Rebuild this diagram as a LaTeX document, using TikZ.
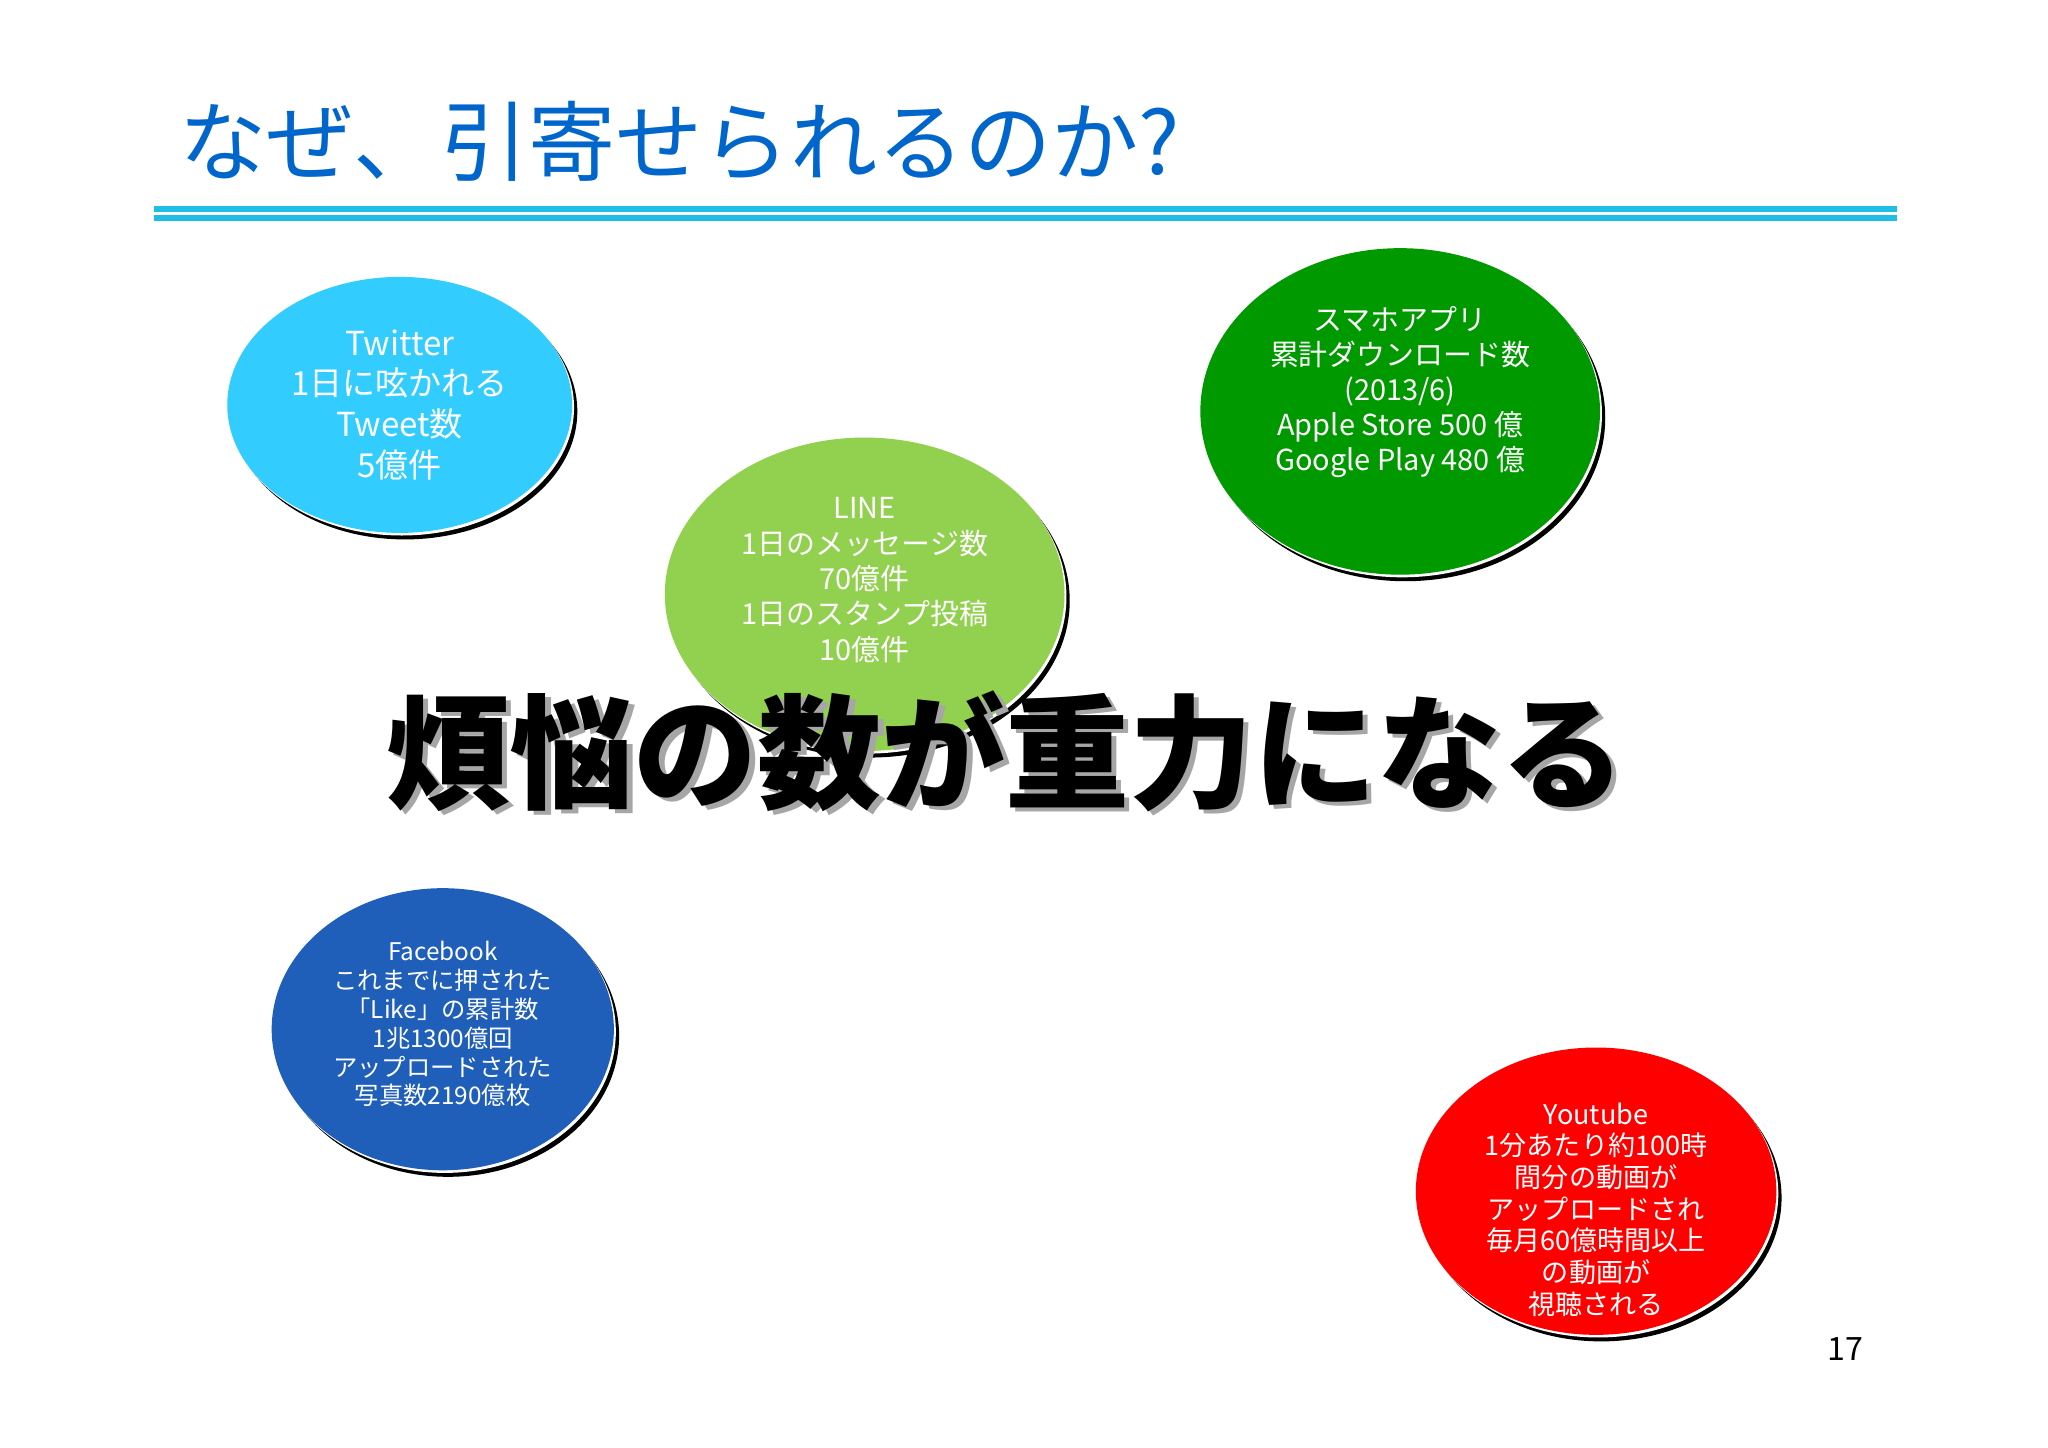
\documentclass[tikz,border=0pt]{standalone}
\usepackage{fontspec}
\setmainfont{Noto Sans CJK JP}
\setsansfont{Noto Sans CJK JP}
\definecolor{titleblue}{RGB}{0,102,204}
\definecolor{rulecyan}{RGB}{30,190,230}
\definecolor{twc}{RGB}{51,204,255}
\definecolor{linec}{RGB}{146,208,80}
\definecolor{smc}{RGB}{0,153,0}
\definecolor{fbc}{RGB}{31,94,185}
\definecolor{ytc}{RGB}{255,0,0}
\newcommand{\bubble}[5]{%
  \fill[black] (#1)++(0.04,-0.05) ellipse [x radius=#2,y radius=#3];
  \fill[white] (#1)++(0.015,-0.02) ellipse [x radius=#2,y radius=#3];
  \fill[#4] (#1) ellipse [x radius=#2,y radius=#3];}
\tikzset{btext/.style={text=white,align=center}}
\begin{document}
\begin{tikzpicture}
\useasboundingbox (0,0) rectangle (15.68,11.08);
\fill[white] (0,0) rectangle (15.68,11.08);
\node[anchor=west,text=titleblue,font=\fontsize{19}{19}\selectfont] (title) at (1.25,10.0) {なぜ、引寄せられるのか?};
\draw[rulecyan,line width=1.2pt] (1.18,9.48) -- (14.52,9.48);
\draw[rulecyan,line width=1.2pt] (1.18,9.41) -- (14.52,9.41);
\bubble{3.06,7.98}{1.32}{0.98}{twc}{}
\node[btext,font=\fontsize{7.2}{8.9}\selectfont] (tw) at (3.06,7.98) {Twitter\\1日に呟かれる\\Tweet数\\5億件};
\bubble{10.72,7.93}{1.53}{1.25}{smc}{}
\node[btext,font=\fontsize{6.3}{7.6}\selectfont] (sm) at (10.72,8.08) {スマホアプリ\\累計ダウンロード数\\(2013/6)\\Apple Store 500 億\\Google Play 480 億};
\bubble{6.62,6.53}{1.53}{1.20}{linec}{}
\node[btext,font=\fontsize{6.3}{7.7}\selectfont] (ln) at (6.62,6.64) {LINE\\1日のメッセージ数\\70億件\\1日のスタンプ投稿\\10億件};
\bubble{3.39,3.20}{1.31}{1.08}{fbc}{}
\node[btext,font=\fontsize{5.3}{6.3}\selectfont] (fb) at (3.39,3.24) {Facebook\\これまでに押された\\「Like」の累計数\\1兆1300億回\\アップロードされた\\写真数2190億枚};
\bubble{12.22,1.96}{1.38}{1.10}{ytc}{}
\node[btext,font=\fontsize{5.9}{6.9}\selectfont] (yt) at (12.22,1.82) {Youtube\\1分あたり約100時\\間分の動画が\\アップロードされ\\毎月60億時間以上\\の動画が\\視聴される};
\node[text=gray!70,font=\bfseries\fontsize{27}{27}\selectfont] (bigs) at (7.74,5.30) {煩悩の数が重力になる};
\node[text=black,font=\bfseries\fontsize{27}{27}\selectfont] (big) at (7.70,5.33) {煩悩の数が重力になる};
\node[font=\fontsize{7}{7}\selectfont] (pg) at (14.13,0.75) {17};
\end{tikzpicture}
\end{document}
